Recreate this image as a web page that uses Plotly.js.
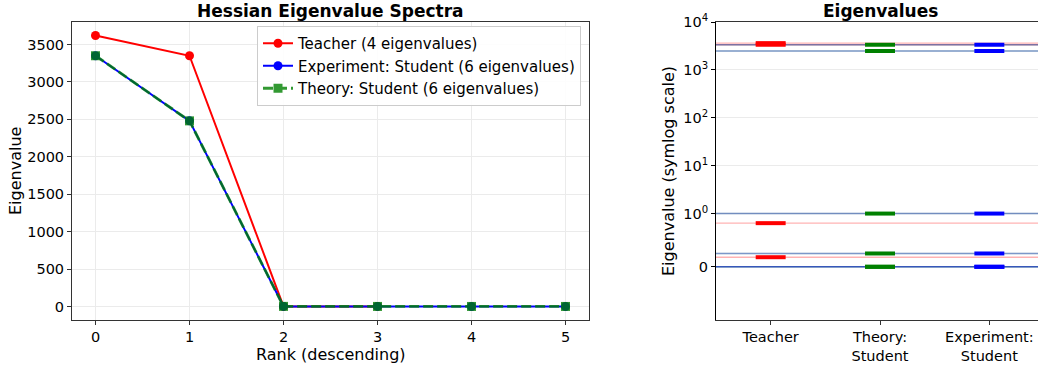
<!DOCTYPE html>
<html>
<head>
<meta charset="utf-8">
<script src="https://cdn.plot.ly/plotly-3.0.1.min.js"></script>
<style>
  html, body { margin: 0; padding: 0; background: #fff; }
  #chart { width: 1038px; height: 371px; }
</style>
</head>
<body>
<div id="chart"></div>
<script>
// Hessian eigenvalues, sorted in descending order
const rank = [0, 1, 2, 3, 4, 5];
const teacherEig = [3620, 3350, 0.82, 0.18];
const experimentEig = [3350, 2480, 1.0, 0.25, 0, 0];
const theoryEig = [3350, 2480, 1.0, 0.25, 0, 0];

// Tick labels
const rankTicks = [0, 1, 2, 3, 4, 5];
const eigTicks = [0, 500, 1000, 1500, 2000, 2500, 3000, 3500];
const groupLabels = ['Teacher', 'Theory:<br>Student', 'Experiment:<br>Student'];
const symlogTicks = [0, 1, 10, 100, 1000, 10000];
const symlogTickText = ['0', '10<sup>0</sup>', '10<sup>1</sup>', '10<sup>2</sup>', '10<sup>3</sup>', '10<sup>4</sup>'];

// Symmetric log transform (base 10, linthresh 1, linscale 1)
const LINTHRESH = 1;
const LINSCALE_ADJ = 1 / (1 - 1 / 10);
function symlog(v) {
  const a = Math.abs(v);
  const s = v < 0 ? -1 : 1;
  if (a <= LINTHRESH) return s * a * LINSCALE_ADJ;
  return s * (LINTHRESH * LINSCALE_ADJ + Math.log10(a / LINTHRESH));
}

const FONT = 'DejaVu Sans, Arial, sans-serif';
const TICK_SIZE = 14.5;
const LEGEND_SIZE = 15;
const LABEL_SIZE = 16;
const TITLE_SIZE = 17;
const AXIS_COLOR = '#333';
const GRID_COLOR = '#ebebeb';

const W = 1038, H = 371;
const px = (x) => x / W;
const py = (y) => (H - y) / H;

// Left panel: spectra vs rank
const traces = [
  {
    x: rank.slice(0, teacherEig.length), y: teacherEig,
    name: 'Teacher (4 eigenvalues)', mode: 'lines+markers',
    line: { color: 'red', width: 2 },
    marker: { color: 'red', symbol: 'circle', size: 9 },
    xaxis: 'x', yaxis: 'y'
  },
  {
    x: rank.slice(0, experimentEig.length), y: experimentEig,
    name: 'Experiment: Student (6 eigenvalues)', mode: 'lines+markers',
    line: { color: 'blue', width: 2 },
    marker: { color: 'blue', symbol: 'circle', size: 9 },
    xaxis: 'x', yaxis: 'y'
  },
  {
    x: rank.slice(0, theoryEig.length), y: theoryEig,
    name: 'Theory: Student (6 eigenvalues)', mode: 'lines+markers',
    opacity: 0.8,
    line: { color: 'green', width: 2.8, dash: '10px,4px' },
    marker: { color: 'green', symbol: 'square', size: 9 },
    xaxis: 'x', yaxis: 'y'
  }
];

// Right panel: eigenvalue levels per group on a symlog axis
const groups = [
  { vals: teacherEig, color: 'red', faint: 'rgba(255,0,0,0.3)' },
  { vals: theoryEig, color: 'green', faint: 'rgba(0,128,0,0.3)' },
  { vals: experimentEig, color: 'blue', faint: 'rgba(0,0,255,0.3)' }
];
const HALF = 0.137;

// faint reference lines across the panel
groups.forEach((g) => {
  const xs = [], ys = [];
  g.vals.forEach((v) => {
    xs.push(-0.5, 2.5, null);
    ys.push(symlog(v), symlog(v), null);
  });
  traces.push({
    x: xs, y: ys, mode: 'lines', showlegend: false, hoverinfo: 'skip',
    line: { color: g.faint, width: 1.4 }, xaxis: 'x2', yaxis: 'y2'
  });
});
// level segments
groups.forEach((g, i) => {
  const xs = [], ys = [];
  g.vals.forEach((v) => {
    xs.push(i - HALF, i + HALF, null);
    ys.push(symlog(v), symlog(v), null);
  });
  traces.push({
    x: xs, y: ys, mode: 'lines', showlegend: false,
    line: { color: g.color, width: 4 }, xaxis: 'x2', yaxis: 'y2'
  });
});

const yDomain = [py(320), py(22)];
const tickFont = { family: FONT, size: TICK_SIZE, color: '#000' };

const layout = {
  width: W, height: H,
  margin: { l: 0, r: 0, t: 0, b: 0 },
  paper_bgcolor: '#fff', plot_bgcolor: '#fff',
  font: { family: FONT, size: TICK_SIZE, color: '#000' },
  showlegend: true,
  legend: {
    x: px(257), y: py(26), xanchor: 'left', yanchor: 'top',
    bgcolor: 'rgba(255,255,255,0.9)', bordercolor: '#cccccc', borderwidth: 1,
    font: { family: FONT, size: LEGEND_SIZE, color: '#000' },
    tracegroupgap: 0
  },
  xaxis: {
    domain: [px(72), px(589)], range: [-0.25, 5.25], automargin: false,
    tickvals: rankTicks, ticks: 'outside', ticklen: 4, tickcolor: AXIS_COLOR,
    showline: true, linecolor: AXIS_COLOR, linewidth: 1, mirror: true,
    showgrid: true, gridcolor: GRID_COLOR, zeroline: false,
    tickfont: tickFont, anchor: 'y'
  },
  yaxis: {
    domain: yDomain, range: [-181, 3801], automargin: false,
    tickvals: eigTicks, ticks: 'outside', ticklen: 4, tickcolor: AXIS_COLOR,
    showline: true, linecolor: AXIS_COLOR, linewidth: 1, mirror: true,
    showgrid: true, gridcolor: GRID_COLOR, zeroline: false,
    tickfont: tickFont, anchor: 'x'
  },
  xaxis2: {
    domain: [px(716), 1], range: [-0.5, 2.445], automargin: false,
    tickvals: [0, 1, 2], ticktext: groupLabels,
    ticks: 'outside', ticklen: 4, tickcolor: AXIS_COLOR,
    showline: true, linecolor: AXIS_COLOR, linewidth: 1, mirror: true,
    showgrid: false, zeroline: false,
    tickfont: tickFont, anchor: 'y2'
  },
  yaxis2: {
    domain: yDomain, range: [symlog(-1), symlog(10000)], automargin: false,
    tickvals: symlogTicks.map(symlog), ticktext: symlogTickText,
    ticks: 'outside', ticklen: 4, tickcolor: '#000',
    showline: true, linecolor: '#000', linewidth: 1, mirror: false,
    showgrid: true, gridcolor: GRID_COLOR, zeroline: false,
    tickfont: tickFont, anchor: 'x2'
  },
  annotations: [
    { text: '<b>Hessian Eigenvalue Spectra</b>', x: px(330.5), y: py(11), xref: 'paper', yref: 'paper',
      showarrow: false, xanchor: 'center', yanchor: 'middle', font: { family: FONT, size: TITLE_SIZE, color: '#000' } },
    { text: '<b>Eigenvalues</b>', x: px(880), y: py(11), xref: 'paper', yref: 'paper',
      showarrow: false, xanchor: 'center', yanchor: 'middle', font: { family: FONT, size: TITLE_SIZE, color: '#000' } },
    { text: 'Rank (descending)', x: px(330.5), y: py(354), xref: 'paper', yref: 'paper',
      showarrow: false, xanchor: 'center', yanchor: 'middle', font: { family: FONT, size: LABEL_SIZE, color: '#000' } },
    { text: 'Eigenvalue', x: px(15), y: py(171), xref: 'paper', yref: 'paper', textangle: -90,
      showarrow: false, xanchor: 'center', yanchor: 'middle', font: { family: FONT, size: LABEL_SIZE, color: '#000' } },
    { text: 'Eigenvalue (symlog scale)', x: px(668), y: py(171), xref: 'paper', yref: 'paper', textangle: -90,
      showarrow: false, xanchor: 'center', yanchor: 'middle', font: { family: FONT, size: LABEL_SIZE, color: '#000' } }
  ]
};

Plotly.newPlot('chart', traces, layout, { staticPlot: true, displayModeBar: false });
</script>
</body>
</html>
